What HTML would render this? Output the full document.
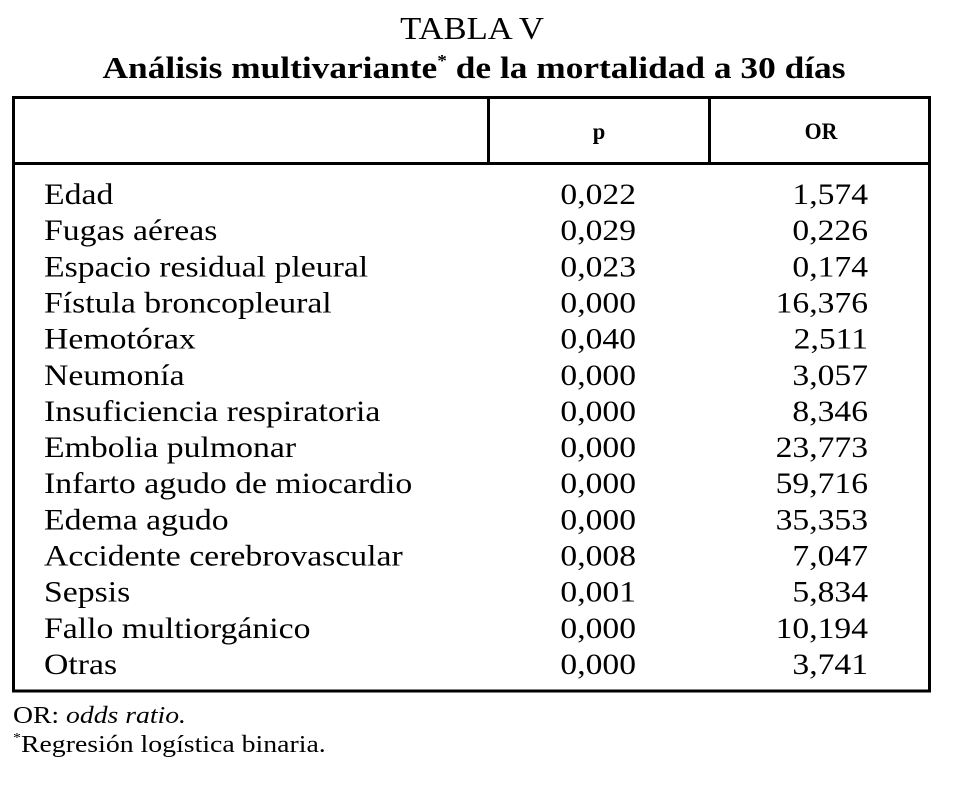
<!DOCTYPE html>
<html>
<head>
<meta charset="utf-8">
<style>
  html, body { margin: 0; padding: 0; background: #fff; }
  body { width: 977px; height: 804px; overflow: hidden; }
  svg { display: block; }
  text { font-family: "Liberation Serif", "DejaVu Serif", serif; fill: #000; }
</style>
</head>
<body>
<svg width="977" height="804" viewBox="0 0 977 804" xmlns="http://www.w3.org/2000/svg">
  <!-- Titles -->
  <text transform="translate(472,39) scale(1.1,1)" text-anchor="middle" font-size="31.5">TABLA V</text>
  <text transform="translate(474,78) scale(1.14,1)" text-anchor="middle" font-size="31" font-weight="bold">Análisis multivariante<tspan font-size="17" dy="-12">*</tspan><tspan dy="12"> de la mortalidad a 30 días</tspan></text>

  <!-- Table borders -->
  <rect x="13.5" y="97.5" width="916" height="593.5" fill="none" stroke="#000" stroke-width="3"/>
  <line x1="12" y1="163.5" x2="931" y2="163.5" stroke="#000" stroke-width="3"/>
  <line x1="488.5" y1="97" x2="488.5" y2="164" stroke="#000" stroke-width="3"/>
  <line x1="709.5" y1="97" x2="709.5" y2="164" stroke="#000" stroke-width="3"/>

  <!-- Header -->
  <text transform="translate(599,139) scale(0.98,1)" text-anchor="middle" font-size="23" font-weight="bold">p</text>
  <text transform="translate(821,139) scale(0.95,1)" text-anchor="middle" font-size="23" font-weight="bold">OR</text>

  <!-- Rows: labels -->
  <g font-size="30">
    <text transform="translate(44,204) scale(1.125,1)">Edad</text>
    <text transform="translate(44,240.2) scale(1.125,1)">Fugas aéreas</text>
    <text transform="translate(44,276.3) scale(1.125,1)">Espacio residual pleural</text>
    <text transform="translate(44,312.5) scale(1.125,1)">Fístula broncopleural</text>
    <text transform="translate(44,348.6) scale(1.125,1)">Hemotórax</text>
    <text transform="translate(44,384.8) scale(1.125,1)">Neumonía</text>
    <text transform="translate(44,420.9) scale(1.125,1)">Insuficiencia respiratoria</text>
    <text transform="translate(44,457.1) scale(1.125,1)">Embolia pulmonar</text>
    <text transform="translate(44,493.2) scale(1.125,1)">Infarto agudo de miocardio</text>
    <text transform="translate(44,529.4) scale(1.125,1)">Edema agudo</text>
    <text transform="translate(44,565.5) scale(1.125,1)">Accidente cerebrovascular</text>
    <text transform="translate(44,601.7) scale(1.125,1)">Sepsis</text>
    <text transform="translate(44,637.8) scale(1.125,1)">Fallo multiorgánico</text>
    <text transform="translate(44,674) scale(1.125,1)">Otras</text>
  </g>

  <!-- Rows: p -->
  <g font-size="30" text-anchor="end">
    <text transform="translate(636,204) scale(1.12,1)">0,022</text>
    <text transform="translate(636,240.2) scale(1.12,1)">0,029</text>
    <text transform="translate(636,276.3) scale(1.12,1)">0,023</text>
    <text transform="translate(636,312.5) scale(1.12,1)">0,000</text>
    <text transform="translate(636,348.6) scale(1.12,1)">0,040</text>
    <text transform="translate(636,384.8) scale(1.12,1)">0,000</text>
    <text transform="translate(636,420.9) scale(1.12,1)">0,000</text>
    <text transform="translate(636,457.1) scale(1.12,1)">0,000</text>
    <text transform="translate(636,493.2) scale(1.12,1)">0,000</text>
    <text transform="translate(636,529.4) scale(1.12,1)">0,000</text>
    <text transform="translate(636,565.5) scale(1.12,1)">0,008</text>
    <text transform="translate(636,601.7) scale(1.12,1)">0,001</text>
    <text transform="translate(636,637.8) scale(1.12,1)">0,000</text>
    <text transform="translate(636,674) scale(1.12,1)">0,000</text>
  </g>

  <!-- Rows: OR -->
  <g font-size="30" text-anchor="end">
    <text transform="translate(868,204) scale(1.12,1)">1,574</text>
    <text transform="translate(868,240.2) scale(1.12,1)">0,226</text>
    <text transform="translate(868,276.3) scale(1.12,1)">0,174</text>
    <text transform="translate(868,312.5) scale(1.12,1)">16,376</text>
    <text transform="translate(868,348.6) scale(1.12,1)">2,511</text>
    <text transform="translate(868,384.8) scale(1.12,1)">3,057</text>
    <text transform="translate(868,420.9) scale(1.12,1)">8,346</text>
    <text transform="translate(868,457.1) scale(1.12,1)">23,773</text>
    <text transform="translate(868,493.2) scale(1.12,1)">59,716</text>
    <text transform="translate(868,529.4) scale(1.12,1)">35,353</text>
    <text transform="translate(868,565.5) scale(1.12,1)">7,047</text>
    <text transform="translate(868,601.7) scale(1.12,1)">5,834</text>
    <text transform="translate(868,637.8) scale(1.12,1)">10,194</text>
    <text transform="translate(868,674) scale(1.12,1)">3,741</text>
  </g>

  <!-- Footnotes -->
  <text transform="translate(13,723) scale(1.13,1)" font-size="24.5">OR: <tspan font-style="italic">odds ratio.</tspan></text>
  <text transform="translate(13,752) scale(1.135,1)" font-size="24.5"><tspan font-size="14" dy="-10">*</tspan><tspan dy="10">Regresión logística binaria.</tspan></text>
</svg>
</body>
</html>
